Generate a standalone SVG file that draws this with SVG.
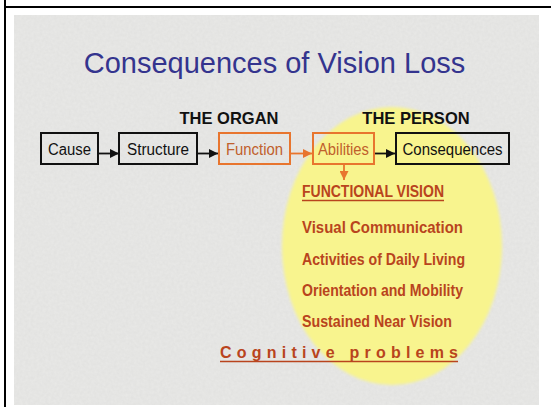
<svg xmlns="http://www.w3.org/2000/svg" width="551" height="407" viewBox="0 0 551 407">
  <defs>
    <style>
      .box{fill:none;stroke:#111;stroke-width:2}
      .obox{fill:none;stroke:#e8752e;stroke-width:2}
      .lbl{font-family:"Liberation Sans",Arial,sans-serif;font-size:16px;fill:#111}
      .olbl{font-family:"Liberation Sans",Arial,sans-serif;font-size:16px;fill:#c0602c}
      .head{font-family:"Liberation Sans",Arial,sans-serif;font-size:16.5px;font-weight:bold;fill:#111}
      .item{font-family:"Liberation Sans",Arial,sans-serif;font-size:16px;font-weight:bold;fill:#b9441d}
      .conn{stroke:#111;stroke-width:1.8;fill:none}
      .oconn{stroke:#e8752e;stroke-width:1.8;fill:none}
    </style>
    <marker id="ah" viewBox="0 0 10 10" refX="10" refY="5" markerWidth="5" markerHeight="5" markerUnits="strokeWidth" orient="auto">
      <path d="M0,0 L10,5 L0,10 z" fill="#111"/>
    </marker>
    <marker id="oah" viewBox="0 0 10 10" refX="10" refY="5" markerWidth="5" markerHeight="5" markerUnits="strokeWidth" orient="auto">
      <path d="M0,0 L10,5 L0,10 z" fill="#e8752e"/>
    </marker>
    <filter id="soft" x="-10%" y="-10%" width="120%" height="120%">
      <feGaussianBlur stdDeviation="1.5"/>
    </filter>
    <filter id="noise" x="0" y="0" width="100%" height="100%">
      <feTurbulence type="fractalNoise" baseFrequency="0.35" numOctaves="2" seed="3" result="t"/>
      <feColorMatrix in="t" type="matrix" values="0 0 0 0 0.55  0 0 0 0 0.55  0 0 0 0 0.55  0 0 0 0.22 0"/>
      <feComposite in2="SourceGraphic" operator="in"/>
    </filter>
  </defs>

  <rect x="0" y="0" width="551" height="407" fill="#ffffff"/>
  <rect x="14" y="15" width="525" height="390" fill="#e9e9e7"/>
  <rect x="14" y="15" width="525" height="390" fill="#e9e9e7" filter="url(#noise)"/>
  <line x1="5" y1="0" x2="5" y2="407" stroke="#000" stroke-width="2"/>
  <line x1="4" y1="7" x2="551" y2="7" stroke="#000" stroke-width="2"/>

  <ellipse cx="392" cy="246" rx="110" ry="139" fill="#f8f48e" filter="url(#soft)"/>

  <text x="274.5" y="73" text-anchor="middle" font-family="'Liberation Sans',Arial,sans-serif" font-size="29" fill="#34348e">Consequences of Vision Loss</text>

  <text class="head" x="229" y="124" text-anchor="middle">THE ORGAN</text>
  <text class="head" x="416" y="124" text-anchor="middle">THE PERSON</text>

  <g id="connectors">
    <line class="conn" x1="98" y1="153.5" x2="119" y2="153.5" marker-end="url(#ah)"/>
    <line class="conn" x1="197" y1="153.5" x2="218" y2="153.5" marker-end="url(#ah)"/>
    <line class="oconn" x1="290" y1="153.5" x2="312" y2="153.5" marker-end="url(#oah)"/>
    <line class="conn" x1="375" y1="153.5" x2="395" y2="153.5" marker-end="url(#ah)"/>
    <line class="oconn" x1="344" y1="165" x2="344" y2="180" marker-end="url(#oah)"/>
  </g>

  <g id="cause">
    <rect class="box" x="41" y="133" width="57" height="31"/>
    <text class="lbl" x="69.5" y="155" text-anchor="middle" textLength="43" lengthAdjust="spacingAndGlyphs">Cause</text>
  </g>
  <g id="structure">
    <rect class="box" x="119" y="133" width="78" height="31"/>
    <text class="lbl" x="158" y="155" text-anchor="middle" textLength="62" lengthAdjust="spacingAndGlyphs">Structure</text>
  </g>
  <g id="function">
    <rect class="obox" x="219" y="133" width="71" height="31"/>
    <text class="olbl" x="254.5" y="155" text-anchor="middle" textLength="57" lengthAdjust="spacingAndGlyphs">Function</text>
  </g>
  <g id="abilities">
    <rect class="obox" x="313" y="133" width="61" height="31"/>
    <text class="olbl" x="343.5" y="155" text-anchor="middle" textLength="51" lengthAdjust="spacingAndGlyphs">Abilities</text>
  </g>
  <g id="consequences">
    <rect class="box" x="396" y="133" width="113" height="31"/>
    <text class="lbl" x="452.5" y="155" text-anchor="middle" textLength="100" lengthAdjust="spacingAndGlyphs">Consequences</text>
  </g>

  <g id="functional-vision">
    <text class="item" x="302" y="197" font-size="15" textLength="142" lengthAdjust="spacingAndGlyphs">FUNCTIONAL VISION</text>
    <line x1="302" y1="200.5" x2="444" y2="200.5" stroke="#b9441d" stroke-width="1.3"/>
    <text class="item" x="302" y="233" textLength="161" lengthAdjust="spacingAndGlyphs">Visual Communication</text>
    <text class="item" x="302" y="265" textLength="163" lengthAdjust="spacingAndGlyphs">Activities of Daily Living</text>
    <text class="item" x="302" y="296" textLength="161" lengthAdjust="spacingAndGlyphs">Orientation and Mobility</text>
    <text class="item" x="302" y="327" textLength="150" lengthAdjust="spacingAndGlyphs">Sustained Near Vision</text>
  </g>

  <g id="cognitive">
    <text class="item" x="220" y="358" font-size="14.5" textLength="238" lengthAdjust="spacing">Cognitive problems</text>
    <line x1="220" y1="361.5" x2="458" y2="361.5" stroke="#b9441d" stroke-width="1.3"/>
  </g>
</svg>
